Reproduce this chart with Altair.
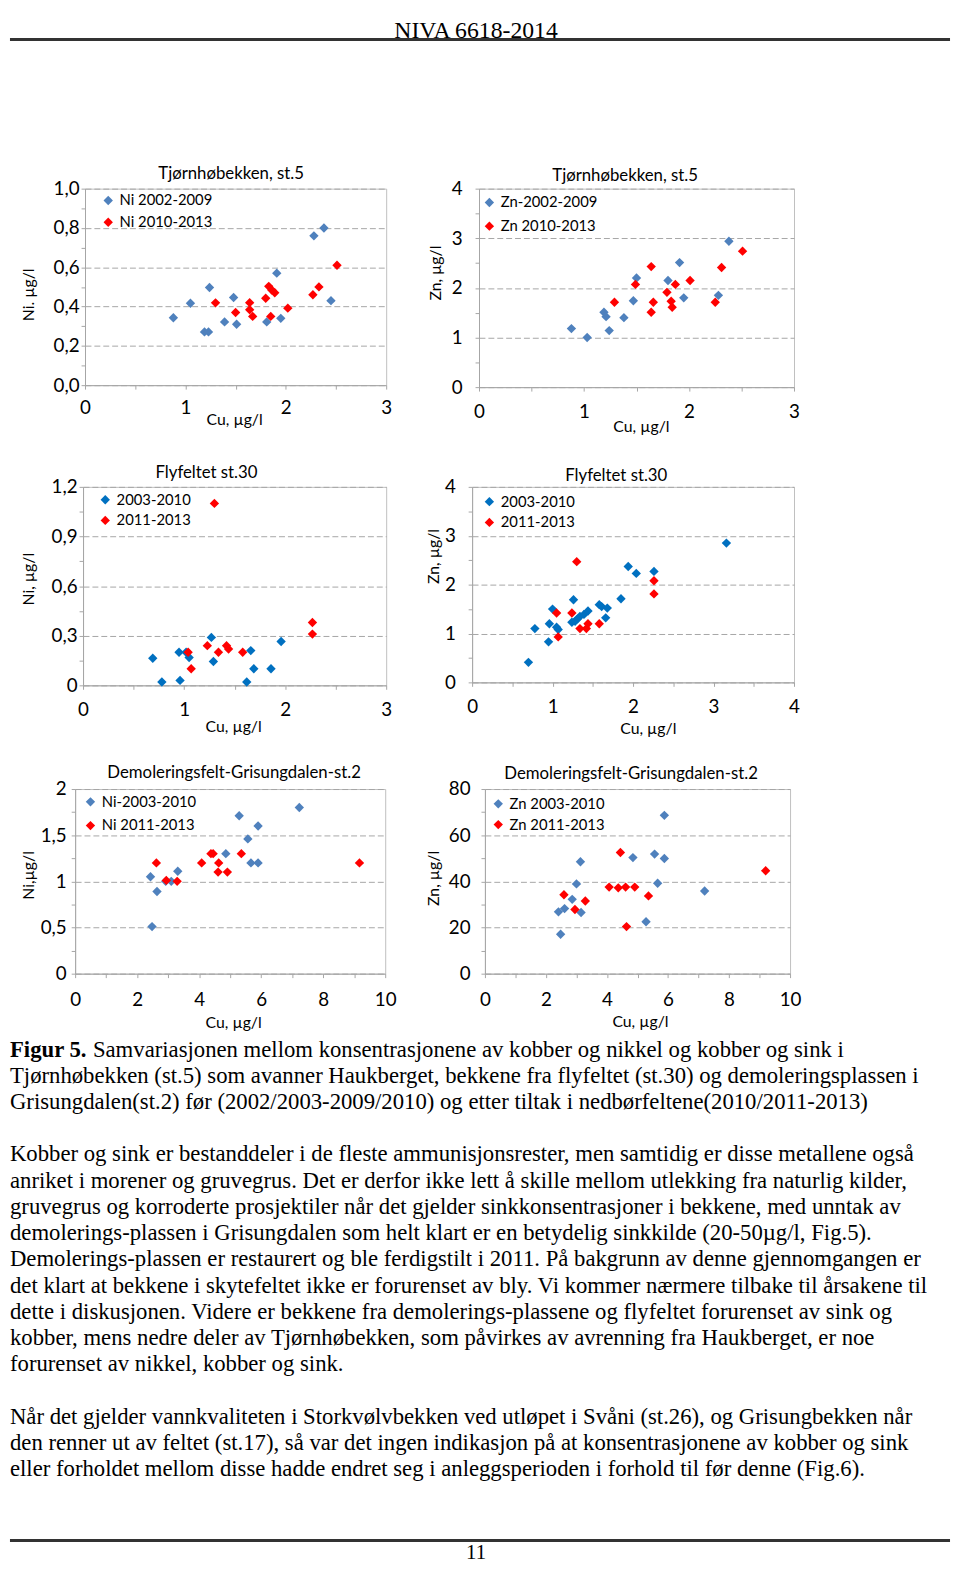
import altair as alt
import pandas as pd

# ---------------- data ----------------
header_text = "NIVA 6618-2014"
page_number = "11"

p1_title = "Tjørnhøbekken, st.5"
p1_names = ["Ni 2002-2009", "Ni 2010-2013"]
p1_ytitle = "Ni. µg/l"
p1_blue_x = [0.88, 1.05, 1.24, 1.19, 1.23, 1.48, 1.39, 1.51, 1.81, 1.91, 1.95, 2.28, 2.38, 2.45]
p1_blue_y = [0.343, 0.417, 0.497, 0.271, 0.271, 0.446, 0.322, 0.31, 0.322, 0.57, 0.34, 0.76, 0.80, 0.43]
p1_red_x = [1.30, 1.50, 1.64, 1.64, 1.67, 1.80, 1.83, 1.86, 1.89, 1.85, 2.02, 2.27, 2.33, 2.51]
p1_red_y = [0.419, 0.37, 0.42, 0.384, 0.35, 0.442, 0.503, 0.484, 0.47, 0.35, 0.392, 0.46, 0.50, 0.61]

p2_title = "Tjørnhøbekken, st.5"
p2_names = ["Zn-2002-2009", "Zn 2010-2013"]
p2_ytitle = "Zn,  µg/l"
p2_blue_x = [0.88, 1.03, 1.19, 1.21, 1.24, 1.38, 1.47, 1.50, 1.80, 1.91, 1.95, 2.28, 2.38]
p2_blue_y = [1.18, 1.00, 1.51, 1.42, 1.14, 1.40, 1.74, 2.20, 2.15, 2.51, 1.80, 1.85, 2.94]
p2_red_x = [1.29, 1.49, 1.64, 1.64, 1.66, 1.79, 1.83, 1.84, 1.87, 2.01, 2.25, 2.31, 2.51]
p2_red_y = [1.71, 2.07, 2.43, 1.51, 1.71, 1.91, 1.73, 1.61, 2.07, 2.15, 1.71, 2.41, 2.74]

p3_title = "Flyfeltet st.30"
p3_names = ["2003-2010", "2011-2013"]
p3_ytitle = "Ni, µg/l"
p3_blue_x = [0.69, 0.78, 0.95, 0.96, 1.02, 1.05, 1.27, 1.29, 1.62, 1.66, 1.69, 1.86, 1.96]
p3_blue_y = [0.164, 0.02, 0.20, 0.03, 0.20, 0.168, 0.29, 0.144, 0.02, 0.21, 0.10, 0.10, 0.265]
p3_red_x = [1.04, 1.07, 1.23, 1.30, 1.34, 1.42, 1.44, 1.58, 2.27, 2.27]
p3_red_y = [0.20, 0.10, 0.24, 1.10, 0.20, 0.24, 0.22, 0.20, 0.38, 0.31]

p4_title = "Flyfeltet st.30"
p4_names = ["2003-2010", "2011-2013"]
p4_ytitle = "Zn, µg/l"
p4_blue_x = [0.70, 0.78, 0.95, 0.96, 1.00, 1.05, 1.07, 1.26, 1.24, 1.28, 1.31, 1.34,
             1.39, 1.44, 1.58, 1.61, 1.66, 1.68, 1.85, 1.94, 2.04, 2.26, 3.16]
p4_blue_y = [0.41, 1.10, 0.83, 1.20, 1.50, 1.13, 1.08, 1.69, 1.23, 1.25, 1.30, 1.35,
             1.39, 1.46, 1.59, 1.55, 1.32, 1.52, 1.71, 2.37, 2.23, 2.27, 2.85]
p4_red_x = [1.05, 1.07, 1.24, 1.30, 1.34, 1.42, 1.44, 1.58, 2.26, 2.26]
p4_red_y = [1.42, 0.93, 1.42, 2.47, 1.10, 1.10, 1.20, 1.20, 2.08, 1.81]

p5_title = "Demoleringsfelt-Grisungdalen-st.2"
p5_names = ["Ni-2003-2010", "Ni 2011-2013"]
p5_ytitle = "Ni,µg/l"
p5_blue_x = [2.43, 2.48, 2.64, 2.92, 3.10, 3.31, 4.86, 5.29, 5.57, 5.67, 5.90, 5.90, 7.23]
p5_blue_y = [1.05, 0.51, 0.89, 1.00, 1.00, 1.11, 1.30, 1.71, 1.46, 1.20, 1.60, 1.20, 1.80]
p5_red_x = [2.62, 2.94, 3.29, 4.08, 4.38, 4.45, 4.63, 4.61, 4.91, 5.36, 9.17]
p5_red_y = [1.20, 1.01, 1.00, 1.20, 1.30, 1.30, 1.20, 1.10, 1.10, 1.30, 1.20]

p6_title = "Demoleringsfelt-Grisungdalen-st.2"
p6_names = ["Zn 2003-2010", "Zn 2011-2013"]
p6_ytitle = "Zn, µg/l"
p6_blue_x = [2.41, 2.48, 2.61, 2.86, 3.00, 3.13, 3.15, 4.85, 5.28, 5.56, 5.66, 5.88, 5.88, 7.20]
p6_blue_y = [26.8, 17.1, 28.2, 32.2, 38.9, 48.5, 26.5, 50.3, 22.5, 51.8, 39.2, 68.6, 49.9, 35.8]
p6_red_x = [2.59, 2.95, 3.29, 4.07, 4.37, 4.44, 4.61, 4.64, 4.91, 5.36, 9.20]
p6_red_y = [34.2, 27.8, 31.5, 37.5, 37.2, 52.5, 37.5, 20.4, 37.5, 33.7, 44.6]

x_title = "Cu, µg/l"

caption_bold = "Figur 5."
caption_first = "Samvariasjonen mellom konsentrasjonene av kobber og nikkel og kobber og sink i"
caption_rest = [
    "Tjørnhøbekken (st.5) som avanner Haukberget, bekkene fra flyfeltet (st.30) og demoleringsplassen i",
    "Grisungdalen(st.2) før  (2002/2003-2009/2010) og etter tiltak i nedbørfeltene(2010/2011-2013)",
]
para1 = [
    "Kobber og sink er bestanddeler i de fleste ammunisjonsrester, men samtidig er disse metallene også",
    "anriket i morener og gruvegrus. Det er derfor ikke lett å skille mellom utlekking fra naturlig kilder,",
    "gruvegrus og korroderte prosjektiler når det gjelder sinkkonsentrasjoner i bekkene, med unntak av",
    "demolerings-plassen i Grisungdalen som helt klart er en betydelig sinkkilde (20-50µg/l, Fig.5).",
    "Demolerings-plassen er restaurert og ble ferdigstilt i 2011. På bakgrunn av denne gjennomgangen er",
    "det klart at bekkene i skytefeltet ikke er forurenset av bly. Vi kommer nærmere tilbake til årsakene til",
    "dette i diskusjonen. Videre er bekkene fra demolerings-plassene og flyfeltet forurenset av sink og",
    "kobber, mens nedre deler av Tjørnhøbekken, som påvirkes av avrenning fra Haukberget, er noe",
    "forurenset av nikkel, kobber og sink.",
]
para2 = [
    "Når det gjelder vannkvaliteten i Storkvølvbekken ved utløpet i Svåni (st.26), og Grisungbekken når",
    "den renner ut av feltet (st.17), så var det ingen indikasjon på at konsentrasjonene av kobber og sink",
    "eller forholdet mellom disse hadde endret seg i anleggsperioden i forhold til før denne (Fig.6).",
]

# ---------------- styles ----------------
BLUE_A = "#4F81BD"
BLUE_B = "#0070C0"
RED = "#FF0000"
AX = "#A6A6A6"
FONT = "Lato"
SERIF = "Liberation Serif"
TXT = 23
PAGE_W = 952
HEADER_H = 90


def is_major(step):
    return f"abs(datum.value/{step} - round(datum.value/{step})) < 0.001"


def ticks(vmax, step):
    n = int(round(vmax / step))
    return [round(i * step, 6) for i in range(n + 1)]


def one(**kw):
    return pd.DataFrame({k: [v] for k, v in kw.items()})


def panel(title, names, ytitle, bx, by, rx, ry, blue, w, h,
          xmax, xmaj, xmin, ymax, ymaj, ymin, yfmt,
          tx, ty, ylp, ytx, yty, xlp, xtx, xty, lx, ly, lrp, box):
    df = pd.DataFrame({
        "cu": bx + rx,
        "val": by + ry,
        "serie": [names[0]] * len(bx) + [names[1]] * len(rx),
    })
    xlab = f"{is_major(xmaj)} ? format(datum.value, '~g') : ''"
    ylab = f"{is_major(ymaj)} ? replace(format(datum.value, '{yfmt}'), '.', ',') : ''"
    pts = alt.Chart(df).mark_point(shape="diamond", filled=True, size=90, opacity=1).encode(
        x=alt.X("cu:Q", scale=alt.Scale(domain=[0, xmax], nice=False, zero=True),
                axis=alt.Axis(values=ticks(xmax, xmin), labelExpr=xlab, grid=False,
                              title=x_title, titleX=xtx, titleY=xty, titleBaseline="middle",
                              titleAlign="center", labelBaseline="middle", labelPadding=xlp,
                              labelFlush=False, labelOverlap=False, tickSize=4)),
        y=alt.Y("val:Q", scale=alt.Scale(domain=[0, ymax], nice=False, zero=True),
                axis=alt.Axis(values=ticks(ymax, ymin), labelExpr=ylab,
                              gridOpacity={"condition": {"test": is_major(ymaj), "value": 1}, "value": 0},
                              gridDash=[6, 3], gridColor=AX,
                              title=ytitle, titleX=ytx, titleY=yty, titleAngle=270,
                              titleBaseline="middle", titleAlign="center",
                              labelBaseline="middle", labelPadding=ylp, labelFlush=False,
                              labelOverlap=False, tickSize=4)),
        color=alt.Color("serie:N", scale=alt.Scale(domain=names, range=[blue, RED]),
                        legend=alt.Legend(orient="none", legendX=lx, legendY=ly, title=None,
                                          symbolType="diamond", symbolSize=90, symbolStrokeWidth=0,
                                          labelFont=FONT, labelFontSize=15, labelColor="black",
                                          rowPadding=lrp, labelOffset=4, padding=0)),
    )
    ttl = alt.Chart(one(t=title)).mark_text(
        font=FONT, fontSize=17, align="center", baseline="alphabetic", color="black").encode(
        x=alt.value(tx), y=alt.value(ty), text="t:N")
    L, R, T, B = box
    frame = alt.Chart(one(s=0)).mark_rule(strokeWidth=0, opacity=0).encode(
        x=alt.value(-L), x2=alt.value(w + R), y=alt.value(-T), y2=alt.value(h + B))
    return alt.layer(pts, ttl, frame).properties(
        width=w, height=h, view=alt.ViewBackground(stroke="#BFBFBF", strokeWidth=1))


def spacer():
    return alt.Chart(one(s=0)).mark_point(size=0, opacity=0, strokeWidth=0).encode(
        x=alt.value(0), y=alt.value(0)).properties(width=1, height=1)


# cell boxes (left, right, top, bottom reach around each plot) fix the page layout
P1 = panel(p1_title, p1_names, p1_ytitle, p1_blue_x, p1_blue_y, p1_red_x, p1_red_y, BLUE_A, 305, 199,
           3, 1, 0.5, 1.0, 0.2, 0.1, ".1f", 148, -10, 2, -57, 107, 19, 151, 35, 16, 4.5, 6,
           box=(73, 20, 80, 61))
P2 = panel(p2_title, p2_names, p2_ytitle, p2_blue_x, p2_blue_y, p2_red_x, p2_red_y, BLUE_A, 319, 201,
           3, 1, 0.5, 4, 1, 0.5, "~g", 148, -8, 13, -44, 85, 21, 164, 40, 3, 6.5, 8,
           box=(72, 20, 80, 59))
P3 = panel(p3_title, p3_names, p3_ytitle, p3_blue_x, p3_blue_y, p3_red_x, p3_red_y, BLUE_B, 307, 201,
           3, 1, 0.5, 1.2, 0.3, 0.15, "~g", 125, -8.5, 2, -55, 93, 21, 152, 42, 15, 5.5, 5,
           box=(71, 20, 40, 63))
P4 = panel(p4_title, p4_names, p4_ytitle, p4_blue_x, p4_blue_y, p4_red_x, p4_red_y, BLUE_B, 326, 198,
           4, 1, 0.5, 4, 1, 0.5, "~g", 146, -6, 13, -39, 70, 21, 178, 47, 10, 7.5, 5,
           box=(65, 20, 40, 66))
P5 = panel(p5_title, p5_names, p5_ytitle, p5_blue_x, p5_blue_y, p5_red_x, p5_red_y, BLUE_A, 314, 187,
           10, 2, 1, 2, 0.5, 0.25, "~g", 161, -11, 5, -47, 87, 22, 160, 50, 8, 5.5, 8,
           box=(63, 20, 40, 61))
P6 = panel(p6_title, p6_names, p6_ytitle, p6_blue_x, p6_blue_y, p6_red_x, p6_red_y, BLUE_A, 309, 187,
           10, 2, 1, 80, 20, 10, "~g", 148, -10, 11, -52, 90, 22, 157, 49, 6, 7.5, 5,
           box=(79, 20, 40, 61))

header = alt.layer(
    alt.Chart(one(t=header_text)).mark_text(
        font=SERIF, fontSize=24, baseline="alphabetic", align="center", color="black").encode(
        x=alt.value(472), y=alt.value(19), text="t:N"),
    alt.Chart(one(s=0)).mark_rule(color="#333333", strokeWidth=3).encode(
        x=alt.value(0), x2=alt.value(PAGE_W), y=alt.value(21)),
).properties(width=PAGE_W, height=HEADER_H)

# body text block, starting right below the third row of panels
BODY_T = 1032
all_lines = [""] + caption_rest + [""] + para1 + [""] + para2
body_df = pd.DataFrame({"i": list(range(len(all_lines))), "t": all_lines})
yscale = alt.Scale(domain=[0, 16], range=[1053 - BODY_T, 1053 + 26.55 * 16 - BODY_T], nice=False)
body = alt.layer(
    alt.Chart(body_df).mark_text(font=SERIF, fontSize=TXT, align="left", baseline="alphabetic",
                                 color="black").encode(
        x=alt.value(0), y=alt.Y("i:Q", scale=yscale, axis=None), text="t:N"),
    alt.Chart(one(i=0, t=caption_bold)).mark_text(
        font=SERIF, fontSize=TXT, fontWeight="bold", align="left", baseline="alphabetic",
        color="black").encode(x=alt.value(0), y=alt.Y("i:Q", scale=yscale, axis=None), text="t:N"),
    alt.Chart(one(i=0, t=caption_first)).mark_text(
        font=SERIF, fontSize=TXT, align="left", baseline="alphabetic", color="black").encode(
        x=alt.value(84), y=alt.Y("i:Q", scale=yscale, axis=None), text="t:N"),
    alt.Chart(one(s=0)).mark_rule(color="#333333", strokeWidth=3).encode(
        x=alt.value(0), x2=alt.value(PAGE_W), y=alt.value(1543 - BODY_T)),
    alt.Chart(one(t=page_number)).mark_text(
        font=SERIF, fontSize=21, align="center", baseline="alphabetic", color="black").encode(
        x=alt.value(472), y=alt.value(1562 - BODY_T), text="t:N"),
).properties(width=PAGE_W, height=530)


def row(a, b):
    return alt.hconcat(spacer(), a, b, spacing=0).resolve_scale(
        color="independent").resolve_legend(color="independent")


chart = alt.vconcat(header, row(P1, P2), row(P3, P4), row(P5, P6), body, spacing=0,
                    padding=0, background="white").resolve_scale(
    color="independent").resolve_legend(color="independent").configure_view(
    stroke="transparent").configure_axis(
    domainColor=AX, tickColor=AX, labelFont=FONT, labelFontSize=19, labelColor="black",
    titleFont=FONT, titleFontSize=16, titleFontWeight="normal", titleColor="black")

chart.save("out.html", embed_options={"renderer": "svg", "actions": False})
